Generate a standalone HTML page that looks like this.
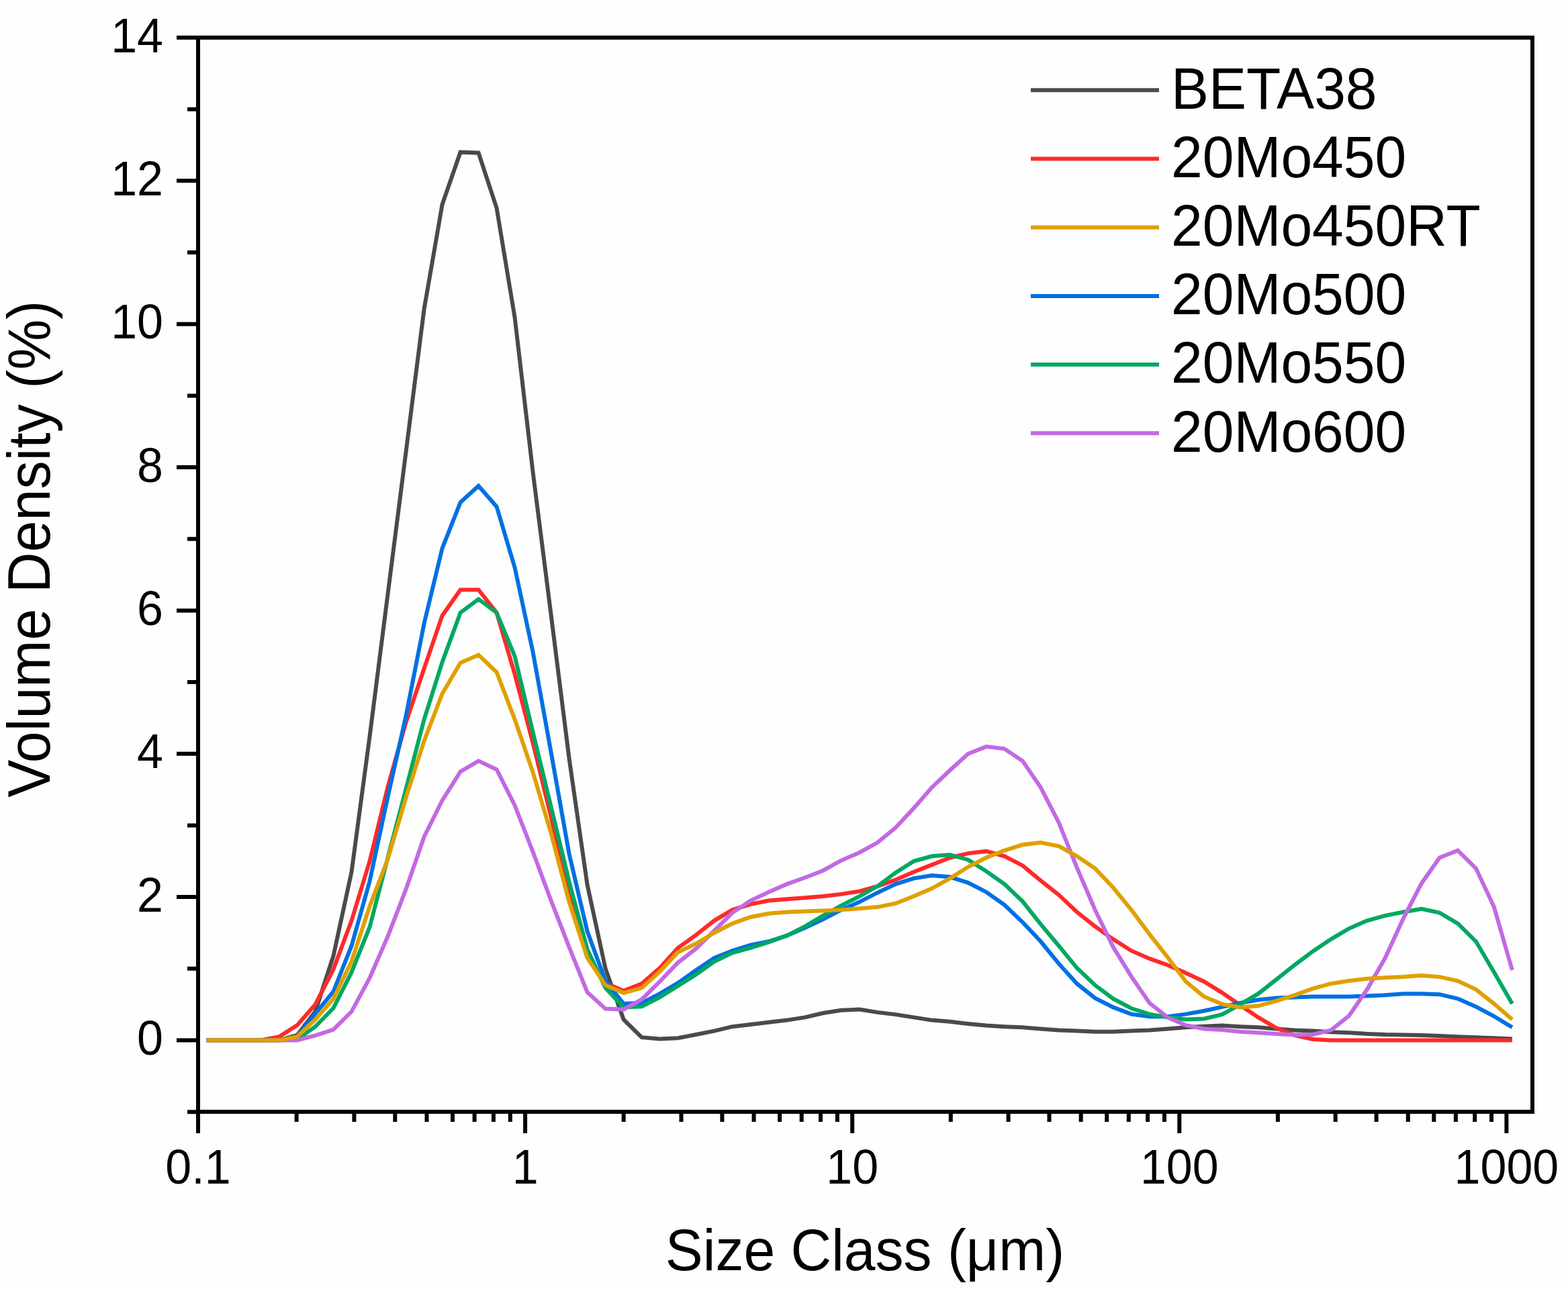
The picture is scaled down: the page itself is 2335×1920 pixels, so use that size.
<!DOCTYPE html>
<html><head><meta charset="utf-8"><title>Volume Density vs Size Class</title>
<style>html,body{margin:0;padding:0;background:#fefefe;overflow:hidden;}svg{display:block;}</style>
</head><body><svg width="2335" height="1920" viewBox="0 0 2335 1920"><rect x="0" y="0" width="2335" height="1920" fill="#fefefe"/><path d="M279 1656.2H295 M263 1549.5H295 M279 1442.8H295 M263 1336.1H295 M279 1229.5H295 M263 1122.8H295 M279 1016.1H295 M263 909.4H295 M279 802.7H295 M263 696.1H295 M279 589.4H295 M263 482.7H295 M279 376.0H295 M263 269.3H295 M279 162.7H295 M263 56.0H295 M295.0 1656V1688 M441.6 1656V1671 M527.4 1656V1671 M588.3 1656V1671 M635.5 1656V1671 M674.0 1656V1671 M706.6 1656V1671 M734.9 1656V1671 M759.8 1656V1671 M782.1 1656V1688 M928.7 1656V1671 M1014.5 1656V1671 M1075.4 1656V1671 M1122.6 1656V1671 M1161.1 1656V1671 M1193.7 1656V1671 M1222.0 1656V1671 M1246.9 1656V1671 M1269.2 1656V1688 M1415.8 1656V1671 M1501.6 1656V1671 M1562.5 1656V1671 M1609.7 1656V1671 M1648.2 1656V1671 M1680.8 1656V1671 M1709.1 1656V1671 M1734.0 1656V1671 M1756.3 1656V1688 M1902.9 1656V1671 M1988.7 1656V1671 M2049.6 1656V1671 M2096.8 1656V1671 M2135.3 1656V1671 M2167.9 1656V1671 M2196.2 1656V1671 M2221.1 1656V1671 M2243.4 1656V1688" stroke="#000" stroke-width="6.0" fill="none"/><rect x="295" y="56" width="1987" height="1600" stroke="#000" stroke-width="6.0" fill="none"/><path d="M1535 134.3H1726" stroke="#4a4a4a" stroke-width="6.0"/><path d="M1535 236.5H1726" stroke="#ff2a2a" stroke-width="6.0"/><path d="M1535 338.7H1726" stroke="#dfa000" stroke-width="6.0"/><path d="M1535 440.9H1726" stroke="#0070e2" stroke-width="6.0"/><path d="M1535 543.1H1726" stroke="#00a862" stroke-width="6.0"/><path d="M1535 645.3H1726" stroke="#c26ae2" stroke-width="6.0"/><g font-family='"Liberation Sans", Arial, Helvetica, sans-serif' fill="#000"><text transform="translate(243.0 1571.0) scale(1 1.045)" font-size="70" text-anchor="end">0</text><text transform="translate(243.0 1357.6) scale(1 1.045)" font-size="70" text-anchor="end">2</text><text transform="translate(243.0 1144.3) scale(1 1.045)" font-size="70" text-anchor="end">4</text><text transform="translate(243.0 930.9) scale(1 1.045)" font-size="70" text-anchor="end">6</text><text transform="translate(243.0 717.6) scale(1 1.045)" font-size="70" text-anchor="end">8</text><text transform="translate(243.0 504.2) scale(1 1.045)" font-size="70" text-anchor="end">10</text><text transform="translate(243.0 290.8) scale(1 1.045)" font-size="70" text-anchor="end">12</text><text transform="translate(243.0 77.5) scale(1 1.045)" font-size="70" text-anchor="end">14</text><text transform="translate(295.0 1762.5) scale(1 1.045)" font-size="70" text-anchor="middle">0.1</text><text transform="translate(782.1 1762.5) scale(1 1.045)" font-size="70" text-anchor="middle">1</text><text transform="translate(1269.2 1762.5) scale(1 1.045)" font-size="70" text-anchor="middle">10</text><text transform="translate(1756.3 1762.5) scale(1 1.045)" font-size="70" text-anchor="middle">100</text><text transform="translate(2243.4 1762.5) scale(1 1.045)" font-size="70" text-anchor="middle">1000</text><text transform="translate(1288.0 1891.5) scale(1 1.045)" font-size="84" text-anchor="middle">Size Class (μm)</text><text transform="translate(73.5 817.7) rotate(-90) scale(1 1.045)" font-size="84.3" text-anchor="middle">Volume Density (%)</text><text transform="translate(1744.0 161.6) scale(1 1.045)" font-size="84" text-anchor="start">BETA38</text><text transform="translate(1744.0 263.8) scale(1 1.045)" font-size="84" text-anchor="start">20Mo450</text><text transform="translate(1744.0 366.0) scale(1 1.045)" font-size="84" text-anchor="start">20Mo450RT</text><text transform="translate(1744.0 468.2) scale(1 1.045)" font-size="84" text-anchor="start">20Mo500</text><text transform="translate(1744.0 570.4) scale(1 1.045)" font-size="84" text-anchor="start">20Mo550</text><text transform="translate(1744.0 672.6) scale(1 1.045)" font-size="84" text-anchor="start">20Mo600</text></g><path d="M307.5 1549.5 L334.5 1549.5 L361.5 1549.5 L388.5 1549.5 L415.5 1549.5 L442.5 1542.0 L469.5 1506.8 L496.5 1423.6 L523.5 1298.8 L550.5 1097.2 L577.5 884.9 L604.6 672.6 L631.6 460.3 L658.6 304.5 L685.6 226.7 L712.6 227.7 L739.6 309.9 L766.6 473.1 L793.6 703.5 L820.6 915.8 L847.6 1130.2 L874.6 1318.0 L901.6 1442.8 L928.6 1518.6 L955.6 1545.2 L982.6 1547.4 L1009.6 1546.3 L1036.6 1541.0 L1063.6 1535.6 L1090.6 1529.2 L1117.7 1526.0 L1144.7 1522.8 L1171.7 1519.6 L1198.7 1515.4 L1225.7 1509.0 L1252.7 1504.7 L1279.7 1503.6 L1306.7 1507.9 L1333.7 1511.1 L1360.7 1515.4 L1387.7 1519.6 L1414.7 1521.8 L1441.7 1525.0 L1468.7 1527.6 L1495.7 1529.2 L1522.7 1530.3 L1549.7 1532.4 L1576.7 1534.6 L1603.7 1535.6 L1630.7 1536.7 L1657.8 1536.7 L1684.8 1535.6 L1711.8 1534.6 L1738.8 1532.4 L1765.8 1530.3 L1792.8 1528.7 L1819.8 1527.6 L1846.8 1529.2 L1873.8 1530.3 L1900.8 1532.4 L1927.8 1534.6 L1954.8 1535.6 L1981.8 1537.2 L2008.8 1538.3 L2035.8 1539.9 L2062.8 1541.0 L2089.8 1541.5 L2116.8 1542.0 L2143.8 1543.1 L2170.9 1544.2 L2197.9 1545.2 L2224.9 1546.3 L2251.9 1547.4" stroke="#4a4a4a" stroke-width="6.0" fill="none" stroke-linejoin="miter" stroke-miterlimit="4" stroke-linecap="butt"/><path d="M307.5 1549.5 L334.5 1549.5 L361.5 1549.5 L388.5 1549.5 L415.5 1544.2 L442.5 1527.1 L469.5 1496.2 L496.5 1443.9 L523.5 1371.3 L550.5 1282.8 L577.5 1171.9 L604.6 1075.8 L631.6 995.8 L658.6 916.9 L685.6 878.5 L712.6 878.5 L739.6 912.6 L766.6 1004.4 L793.6 1106.8 L820.6 1216.7 L847.6 1335.1 L874.6 1425.8 L901.6 1464.2 L928.6 1475.9 L955.6 1465.2 L982.6 1441.8 L1009.6 1411.9 L1036.6 1392.7 L1063.6 1371.3 L1090.6 1355.3 L1117.7 1346.8 L1144.7 1341.5 L1171.7 1339.3 L1198.7 1337.2 L1225.7 1335.1 L1252.7 1331.9 L1279.7 1327.6 L1306.7 1320.1 L1333.7 1310.5 L1360.7 1298.8 L1387.7 1288.1 L1414.7 1277.5 L1441.7 1271.1 L1468.7 1267.9 L1495.7 1275.3 L1522.7 1289.2 L1549.7 1311.6 L1576.7 1332.9 L1603.7 1358.5 L1630.7 1379.9 L1657.8 1399.1 L1684.8 1416.2 L1711.8 1427.9 L1738.8 1437.5 L1765.8 1449.2 L1792.8 1462.0 L1819.8 1478.6 L1846.8 1497.2 L1873.8 1515.4 L1900.8 1531.4 L1927.8 1542.0 L1954.8 1547.9 L1981.8 1549.5 L2008.8 1549.5 L2035.8 1549.5 L2062.8 1549.5 L2089.8 1549.5 L2116.8 1549.5 L2143.8 1549.5 L2170.9 1549.5 L2197.9 1549.5 L2224.9 1549.5 L2251.9 1549.5" stroke="#ff2a2a" stroke-width="6.0" fill="none" stroke-linejoin="miter" stroke-miterlimit="4" stroke-linecap="butt"/><path d="M307.5 1549.5 L334.5 1549.5 L361.5 1549.5 L388.5 1549.5 L415.5 1549.5 L442.5 1544.2 L469.5 1510.0 L496.5 1477.0 L523.5 1408.7 L550.5 1312.7 L577.5 1186.8 L604.6 1066.2 L631.6 928.6 L658.6 816.6 L685.6 748.3 L712.6 723.8 L739.6 754.7 L766.6 845.4 L793.6 971.3 L820.6 1120.6 L847.6 1272.1 L874.6 1387.3 L901.6 1461.0 L928.6 1495.1 L955.6 1494.0 L982.6 1480.2 L1009.6 1464.2 L1036.6 1445.0 L1063.6 1426.8 L1090.6 1416.2 L1117.7 1407.6 L1144.7 1402.3 L1171.7 1393.7 L1198.7 1382.0 L1225.7 1369.2 L1252.7 1355.3 L1279.7 1343.6 L1306.7 1329.7 L1333.7 1316.9 L1360.7 1308.4 L1387.7 1304.1 L1414.7 1306.3 L1441.7 1314.8 L1468.7 1328.7 L1495.7 1347.9 L1522.7 1373.5 L1549.7 1402.3 L1576.7 1435.4 L1603.7 1465.2 L1630.7 1486.6 L1657.8 1500.4 L1684.8 1510.6 L1711.8 1514.3 L1738.8 1514.3 L1765.8 1510.6 L1792.8 1505.8 L1819.8 1499.9 L1846.8 1494.0 L1873.8 1489.2 L1900.8 1486.6 L1927.8 1485.5 L1954.8 1484.4 L1981.8 1484.4 L2008.8 1484.4 L2035.8 1483.4 L2062.8 1482.3 L2089.8 1480.2 L2116.8 1480.2 L2143.8 1481.2 L2170.9 1487.6 L2197.9 1499.4 L2224.9 1513.8 L2251.9 1530.3" stroke="#0070e2" stroke-width="6.0" fill="none" stroke-linejoin="miter" stroke-miterlimit="4" stroke-linecap="butt"/><path d="M307.5 1549.5 L334.5 1549.5 L361.5 1549.5 L388.5 1549.5 L415.5 1549.5 L442.5 1548.4 L469.5 1529.2 L496.5 1501.5 L523.5 1448.2 L550.5 1380.9 L577.5 1277.5 L604.6 1175.1 L631.6 1071.6 L658.6 986.2 L685.6 912.6 L712.6 892.4 L739.6 912.6 L766.6 977.7 L793.6 1090.8 L820.6 1201.7 L847.6 1313.7 L874.6 1414.0 L901.6 1471.6 L928.6 1500.4 L955.6 1499.4 L982.6 1485.5 L1009.6 1468.4 L1036.6 1451.4 L1063.6 1432.2 L1090.6 1419.4 L1117.7 1411.9 L1144.7 1403.3 L1171.7 1393.7 L1198.7 1379.9 L1225.7 1363.9 L1252.7 1348.9 L1279.7 1335.1 L1306.7 1320.1 L1333.7 1299.9 L1360.7 1282.8 L1387.7 1275.3 L1414.7 1273.2 L1441.7 1280.7 L1468.7 1297.7 L1495.7 1316.9 L1522.7 1342.5 L1549.7 1376.7 L1576.7 1408.7 L1603.7 1441.8 L1630.7 1467.4 L1657.8 1487.6 L1684.8 1502.0 L1711.8 1510.6 L1738.8 1515.4 L1765.8 1518.6 L1792.8 1517.5 L1819.8 1511.1 L1846.8 1496.2 L1873.8 1480.2 L1900.8 1458.8 L1927.8 1437.5 L1954.8 1417.2 L1981.8 1399.1 L2008.8 1383.1 L2035.8 1371.3 L2062.8 1363.9 L2089.8 1358.5 L2116.8 1353.7 L2143.8 1359.6 L2170.9 1375.6 L2197.9 1402.3 L2224.9 1448.2 L2251.9 1495.1" stroke="#00a862" stroke-width="6.0" fill="none" stroke-linejoin="miter" stroke-miterlimit="4" stroke-linecap="butt"/><path d="M307.5 1549.5 L334.5 1549.5 L361.5 1549.5 L388.5 1549.5 L415.5 1549.5 L442.5 1549.5 L469.5 1542.4 L496.5 1533.5 L523.5 1506.8 L550.5 1456.7 L577.5 1394.8 L604.6 1324.4 L631.6 1246.5 L658.6 1192.1 L685.6 1149.5 L712.6 1133.4 L739.6 1146.2 L766.6 1199.6 L793.6 1268.9 L820.6 1341.5 L847.6 1410.8 L874.6 1478.0 L901.6 1502.6 L928.6 1503.6 L955.6 1488.7 L982.6 1462.0 L1009.6 1433.8 L1036.6 1412.9 L1063.6 1386.3 L1090.6 1359.6 L1117.7 1341.5 L1144.7 1328.7 L1171.7 1316.9 L1198.7 1307.3 L1225.7 1296.7 L1252.7 1281.7 L1279.7 1270.0 L1306.7 1255.1 L1333.7 1232.7 L1360.7 1203.9 L1387.7 1172.9 L1414.7 1147.3 L1441.7 1122.8 L1468.7 1112.1 L1495.7 1115.3 L1522.7 1133.4 L1549.7 1172.9 L1576.7 1225.2 L1603.7 1292.4 L1630.7 1355.3 L1657.8 1410.8 L1684.8 1454.6 L1711.8 1494.0 L1738.8 1515.4 L1765.8 1527.1 L1792.8 1532.4 L1819.8 1534.0 L1846.8 1536.7 L1873.8 1538.3 L1900.8 1539.9 L1927.8 1541.5 L1954.8 1541.0 L1981.8 1534.6 L2008.8 1513.2 L2035.8 1473.8 L2062.8 1426.8 L2089.8 1368.1 L2116.8 1315.9 L2143.8 1277.5 L2170.9 1266.8 L2197.9 1293.5 L2224.9 1351.1 L2251.9 1445.0" stroke="#c26ae2" stroke-width="6.0" fill="none" stroke-linejoin="miter" stroke-miterlimit="4" stroke-linecap="butt"/><path d="M307.5 1549.5 L334.5 1549.5 L361.5 1549.5 L388.5 1549.5 L415.5 1549.5 L442.5 1544.2 L469.5 1518.6 L496.5 1487.6 L523.5 1432.2 L550.5 1350.0 L577.5 1279.6 L604.6 1187.9 L631.6 1103.6 L658.6 1033.2 L685.6 987.3 L712.6 975.6 L739.6 1001.2 L766.6 1071.6 L793.6 1150.5 L820.6 1241.2 L847.6 1343.6 L874.6 1426.8 L901.6 1467.4 L928.6 1479.1 L955.6 1471.6 L982.6 1447.1 L1009.6 1418.3 L1036.6 1405.5 L1063.6 1389.5 L1090.6 1375.6 L1117.7 1366.0 L1144.7 1360.7 L1171.7 1358.5 L1198.7 1357.5 L1225.7 1356.4 L1252.7 1355.3 L1279.7 1353.2 L1306.7 1351.1 L1333.7 1345.7 L1360.7 1335.1 L1387.7 1323.3 L1414.7 1308.4 L1441.7 1291.3 L1468.7 1277.5 L1495.7 1266.8 L1522.7 1258.3 L1549.7 1255.1 L1576.7 1260.4 L1603.7 1275.3 L1630.7 1293.5 L1657.8 1322.3 L1684.8 1355.3 L1711.8 1391.6 L1738.8 1425.8 L1765.8 1462.0 L1792.8 1484.4 L1819.8 1495.6 L1846.8 1500.4 L1873.8 1498.3 L1900.8 1490.8 L1927.8 1482.3 L1954.8 1472.7 L1981.8 1465.2 L2008.8 1461.0 L2035.8 1457.8 L2062.8 1456.2 L2089.8 1455.1 L2116.8 1453.0 L2143.8 1455.1 L2170.9 1461.0 L2197.9 1473.8 L2224.9 1495.1 L2251.9 1518.6" stroke="#dfa000" stroke-width="6.0" fill="none" stroke-linejoin="miter" stroke-miterlimit="4" stroke-linecap="butt"/></svg></body></html>
